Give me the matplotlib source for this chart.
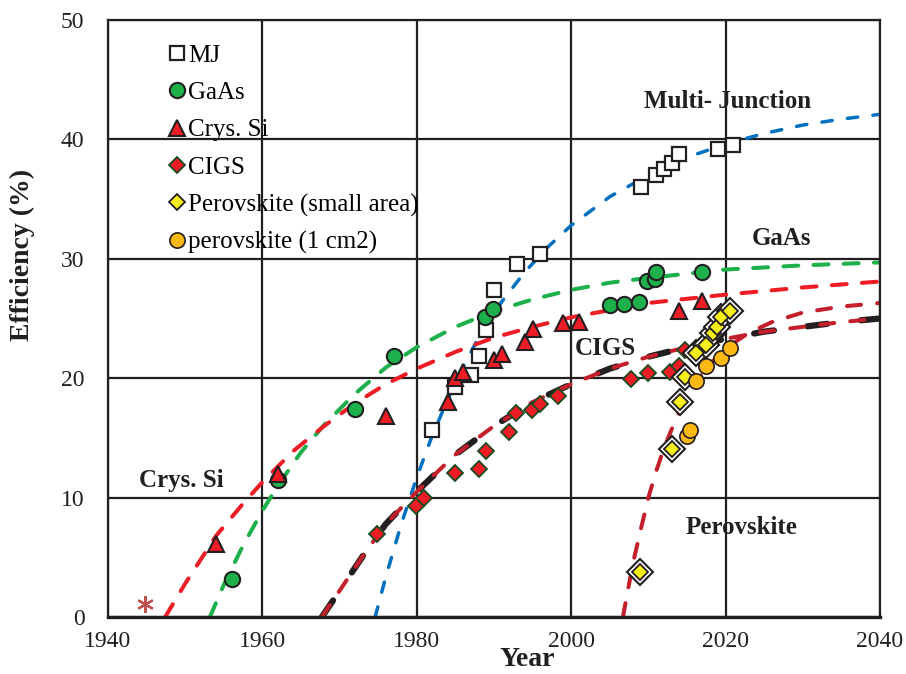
import numpy as np
import matplotlib
matplotlib.use("Agg")
import matplotlib.pyplot as plt

plt.rcParams['font.family'] = ['Liberation Serif', 'DejaVu Serif']

# measured points
mj_year = [1982, 1985, 1987, 1988, 1989, 1990, 1993, 1996, 2009, 2011, 2012, 2013, 2014, 2019, 2021]
mj_eff = [15.7, 19.3, 20.3, 21.9, 24.0, 27.4, 29.6, 30.4, 36.0, 37.0, 37.5, 38.0, 38.8, 39.2, 39.5]

gaas_year = [1956, 1962, 1972, 1977, 1988.8, 1989.9, 2005, 2006.8, 2008.8, 2009.8, 2010.9, 2011, 2016.9]
gaas_eff = [3.2, 11.5, 17.4, 21.9, 25.1, 25.8, 26.1, 26.2, 26.4, 28.1, 28.3, 28.9, 28.9]

si_year = [1954, 1962, 1976, 1984, 1985, 1986, 1990, 1991, 1994, 1995, 1999, 2001, 2014, 2017]
si_eff = [6.1, 12.0, 16.8, 18.0, 20.0, 20.5, 21.5, 22.0, 23.0, 24.1, 24.6, 24.7, 25.6, 26.5]

cigs_year = [1974.9, 1979.9, 1980.9, 1984.9, 1988, 1988.9, 1991.9, 1992.9, 1994.9, 1996, 1998.3,
             2007.8, 2009.9, 2012.8, 2013.9, 2014.7]
cigs_eff = [6.95, 9.3, 10.0, 12.1, 12.4, 13.9, 15.5, 17.1, 17.3, 17.8, 18.5,
            19.9, 20.4, 20.5, 21.0, 22.4]

pvk_small_year = [2008.9, 2013.1, 2014.1, 2014.7, 2016.2, 2017.5, 2018.4, 2018.9, 2019.4, 2020.6]
pvk_small_eff = [3.8, 14.1, 18.0, 20.1, 22.1, 22.8, 23.8, 24.3, 25.1, 25.6]

pvk_1cm_year = [2015.0, 2015.4, 2016.2, 2017.5, 2019.4, 2020.6]
pvk_1cm_eff = [15.2, 15.7, 19.8, 21.0, 21.7, 22.5]

star_year = [1944.8]
star_eff = [1.1]

# trend curves
mj_fit_x = [1974.6, 1976, 1978, 1980, 1982, 1985, 1988, 1991, 1994, 1997, 2000, 2005, 2010, 2015, 2020, 2025, 2030, 2035, 2040]
mj_fit_y = [0, 3.4, 7.8, 11.7, 15.2, 19.7, 23.4, 26.4, 28.9, 31.0, 32.8, 35.2, 37.0, 38.5, 39.6, 40.5, 41.2, 41.7, 42.1]

gaas_fit_x = [1953.2, 1955, 1957.5, 1960, 1962, 1965, 1968, 1972, 1976, 1980, 1985, 1990, 1995, 2000, 2005, 2010, 2020, 2030, 2040]
gaas_fit_y = [0, 2.7, 6.0, 8.9, 11.0, 13.8, 16.1, 18.7, 20.9, 22.6, 24.3, 25.6, 26.6, 27.4, 28.0, 28.4, 29.1, 29.45, 29.7]

si_fit_x = [1947.4, 1950, 1954, 1957.5, 1960, 1964, 1968, 1972, 1976, 1980, 1985, 1990, 1995, 2000, 2005, 2010, 2020, 2030, 2040]
si_fit_y = [0, 2.8, 6.8, 9.5, 11.3, 13.9, 16.0, 17.9, 19.5, 20.8, 22.2, 23.4, 24.3, 25.1, 25.7, 26.3, 27.0, 27.6, 28.1]

cigs_fit_x = [1967.7, 1970, 1973, 1976, 1980, 1985, 1990, 1995, 2000, 2005, 2010, 2015, 2020, 2025, 2030, 2035, 2040]
cigs_fit_y = [0, 2.2, 5.1, 7.8, 10.5, 13.6, 16.0, 18.0, 19.5, 20.8, 21.8, 22.6, 23.3, 23.9, 24.3, 24.7, 25.0]

pvk_fit_x = [2006.7, 2008, 2009, 2010, 2011, 2012, 2013, 2014, 2015, 2016.5, 2018, 2020, 2023, 2026, 2030, 2035, 2040]
pvk_fit_y = [0, 4.5, 7.3, 10.0, 12.2, 14.1, 15.7, 17.2, 18.4, 20.0, 21.2, 22.5, 23.8, 24.7, 25.5, 26.0, 26.3]

fig = plt.figure(figsize=(9.06, 6.74), dpi=100)
ax = fig.add_axes([108/906, 57/674, 772/906, 597/674])

gridc = '#231f20'
ax.set_xlim(1940, 2040)
ax.set_ylim(0, 50)
ax.set_xticks(np.arange(1940, 2041, 20))
ax.set_yticks(np.arange(0, 51, 10))
ax.grid(True, color=gridc, lw=1.6, zorder=1)
for s in ax.spines.values():
    s.set_color(gridc)
    s.set_linewidth(1.6)
ax.spines['bottom'].set_linewidth(2.4)
ax.tick_params(length=0, labelsize=17, colors='#231f20')
ax.tick_params(axis='x', pad=10)
ax.tick_params(axis='y', pad=17)
ax.set_axisbelow(True)

# trend lines
ax.plot(mj_fit_x, mj_fit_y, color='#0070c0', lw=2.5, dashes=(3, 4.4), dash_capstyle='round', zorder=2)
ax.plot(gaas_fit_x, gaas_fit_y, color='#1db04b', lw=2.9, dashes=(3.7, 3.8), dash_capstyle='round', zorder=2)
ax.plot(si_fit_x, si_fit_y, color='#ee1c25', lw=2.9, dashes=(3.7, 3.8), dash_capstyle='round', zorder=2)
ax.plot(cigs_fit_x, cigs_fit_y, color='#231f20', lw=4.5, dashes=(3.2, 5.4), dash_capstyle='round', zorder=2)
ax.plot(cigs_fit_x, cigs_fit_y, color='#c4202c', lw=2.9, dashes=(3.5, 4.0), dash_capstyle='round', zorder=2.1)
ax.plot(pvk_fit_x, pvk_fit_y, color='#c4202c', lw=2.9, dashes=(3.5, 4.0), dash_capstyle='round', zorder=2.1)

# data points
ax.plot(mj_year, mj_eff, 's', ms=10.5, mfc='white', mec='#231f20', mew=1.6, label='MJ', zorder=3)
ax.plot(gaas_year, gaas_eff, 'o', ms=11, mfc='#1db04b', mec='#231f20', mew=1.5, label='GaAs', zorder=3)
ax.plot(si_year, si_eff, '^', ms=11, mfc='#ee1c25', mec='#231f20', mew=1.5, label='Crys. Si', zorder=3)
ax.plot(cigs_year, cigs_eff, 'D', ms=8, mfc='#ee1c25', mec='#1a4a20', mew=1.3, label='CIGS', zorder=3)
ax.plot(pvk_small_year, pvk_small_eff, 'D', ms=13.5, mfc='white', mec='#231f20', mew=1.5, zorder=3)
ax.plot(pvk_small_year, pvk_small_eff, 'D', ms=8, mfc='#f5ee1a', mec='#231f20', mew=1.3,
        label='Perovskite (small area)', zorder=3.1)
ax.plot(pvk_1cm_year, pvk_1cm_eff, 'o', ms=11, mfc='#fdb913', mec='#231f20', mew=1.2,
        label='perovskite (1 cm2)', zorder=3.2)
ax.plot(star_year, star_eff, marker=(6, 2, 0), ms=12, color='#c0504d', mew=1.6, ls='none', zorder=3)

leg = ax.legend(loc='upper left', bbox_to_anchor=(0.06, 0.98), frameon=False, fontsize=18,
                handlelength=0.8, handletextpad=0.05, labelspacing=0.59, borderpad=0)

bold = dict(fontsize=18, fontweight='bold', color='#231f20', ha='center', va='center')
ax.text(2020.2, 43.2, 'Multi- Junction', **bold)
ax.text(2027.3, 31.7, 'GaAs', **bold)
ax.text(2004.4, 22.5, 'CIGS', **bold)
ax.text(1949.5, 11.4, 'Crys. Si', **bold)
ax.text(2022.1, 7.5, 'Perovskite', **bold)

fig.text(527/906, 1 - 660/674, 'Year', fontsize=20, fontweight='bold', color='#231f20', ha='center', va='center')
fig.text(22/906, 1 - 255/674, 'Efficiency (%)', fontsize=20, fontweight='bold', color='#231f20',
         ha='center', va='center', rotation=90)

fig.savefig('out.png', dpi=100)
